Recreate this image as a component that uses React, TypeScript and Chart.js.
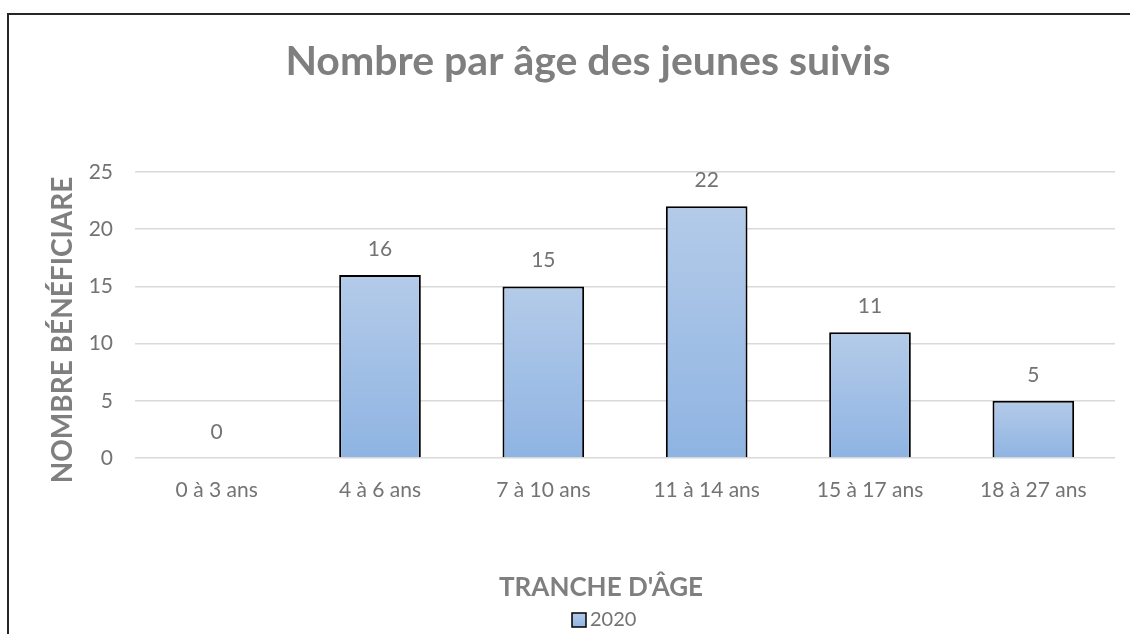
import React, { useEffect, useRef } from "react";
import { Chart, registerables } from "chart.js";

Chart.register(...registerables);

const categories = ["0 à 3 ans", "4 à 6 ans", "7 à 10 ans", "11 à 14 ans", "15 à 17 ans", "18 à 27 ans"];
const values2020 = [0, 16, 15, 22, 11, 5];
const seriesLabel = "2020";
const yMin = 0;
const yMax = 25;
const yStep = 5;
const titleText = "Nombre par âge des jeunes suivis";
const xTitleText = "TRANCHE D'ÂGE";
const yTitleText = "NOMBRE BÉNÉFICIARE";

const FONT = "Lato, 'Open Sans', sans-serif";
const GREY = "#7f7f7f";
const TICK_GREY = "#737373";
const BAR_TOP = "#b4cbe9";
const BAR_BOTTOM = "#8fb4e2";

const decorPlugin = {
  id: "decor",
  beforeDatasetsDraw(chart: any) {
    const ctx = chart.ctx;
    const meta = chart.getDatasetMeta(0);
    meta.data.forEach((el: any) => {
      const top = Math.min(el.y, el.base);
      const bot = Math.max(el.y, el.base);
      const g = ctx.createLinearGradient(0, top, 0, bot === top ? top + 1 : bot);
      g.addColorStop(0, BAR_TOP);
      g.addColorStop(1, BAR_BOTTOM);
      el.options.backgroundColor = g;
    });
  },
  afterDatasetsDraw(chart: any) {
    const ctx = chart.ctx;
    const meta = chart.getDatasetMeta(0);
    ctx.save();
    ctx.fillStyle = TICK_GREY;
    ctx.font = `21px ${FONT}`;
    ctx.textAlign = "center";
    ctx.textBaseline = "middle";
    meta.data.forEach((el: any, i: number) => {
      ctx.fillText(String(values2020[i]), el.x, el.y - 26);
    });
    ctx.restore();
  },
  afterDraw(chart: any) {
    const ctx = chart.ctx;
    ctx.save();
    ctx.fillStyle = GREY;
    ctx.textAlign = "center";
    ctx.textBaseline = "alphabetic";
    // Title
    ctx.font = `bold 41px ${FONT}`;
    ctx.fillText(titleText, 588, 75);
    // X axis title
    ctx.font = `bold 26px ${FONT}`;
    ctx.fillText(xTitleText, 601, 596);
    // Y axis title
    ctx.save();
    ctx.translate(72, 330);
    ctx.rotate(-Math.PI / 2);
    ctx.font = `bold 28px ${FONT}`;
    ctx.fillText(yTitleText, 0, 0);
    ctx.restore();
    // Legend
    const bx = 572, by = 613, bs = 14;
    const g = ctx.createLinearGradient(0, by, 0, by + bs);
    g.addColorStop(0, BAR_TOP);
    g.addColorStop(1, BAR_BOTTOM);
    ctx.fillStyle = g;
    ctx.fillRect(bx, by, bs, bs);
    ctx.strokeStyle = "#000";
    ctx.lineWidth = 1.5;
    ctx.strokeRect(bx, by, bs, bs);
    ctx.fillStyle = TICK_GREY;
    ctx.font = `20px ${FONT}`;
    ctx.textAlign = "left";
    ctx.textBaseline = "middle";
    ctx.fillText(seriesLabel, bx + bs + 4, by + bs / 2);
    ctx.restore();
  },
};

export default function App() {
  const ref = useRef<HTMLCanvasElement | null>(null);
  useEffect(() => {
    if (!ref.current) return;
    const chart = new Chart(ref.current, {
      type: "bar",
      data: {
        labels: categories,
        datasets: [
          {
            label: seriesLabel,
            data: values2020,
            backgroundColor: BAR_BOTTOM,
            borderColor: "#000000",
            borderWidth: (c: any) => (values2020[c.dataIndex] === 0 ? 0 : 2),
            categoryPercentage: 1,
            barPercentage: 0.5,
          },
        ],
      },
      options: {
        responsive: false,
        animation: false,
        layout: { padding: { top: 172, right: 15, bottom: 634 - 458 - 60, left: 0 } },
        plugins: {
          legend: { display: false },
          title: { display: false },
          tooltip: { enabled: false },
        },
        scales: {
          x: {
            grid: { display: false, drawTicks: false },
            border: { display: false },
            ticks: { color: TICK_GREY, font: { family: FONT, size: 21 }, padding: 20 },
            afterFit: (s: any) => {
              s.height = 60;
            },
          },
          y: {
            min: yMin,
            max: yMax,
            ticks: { stepSize: yStep, color: TICK_GREY, font: { family: FONT, size: 21 }, padding: 22 },
            grid: { color: "#d9d9d9", lineWidth: 1.5, drawTicks: false },
            border: { display: false },
            afterFit: (s: any) => {
              s.width = 135;
            },
          },
        },
      },
      plugins: [decorPlugin],
    } as any);
    return () => chart.destroy();
  }, []);
  return (
    <div>
      <div
        style={{
          position: "fixed",
          left: 7,
          top: 13,
          width: 1200,
          height: 700,
          border: "2px solid #262626",
          boxSizing: "border-box",
        }}
      />
      <canvas
        ref={ref}
        width={1130}
        height={634}
        style={{ position: "fixed", left: 0, top: 0, width: 1130, height: 634 }}
      />
    </div>
  );
}
